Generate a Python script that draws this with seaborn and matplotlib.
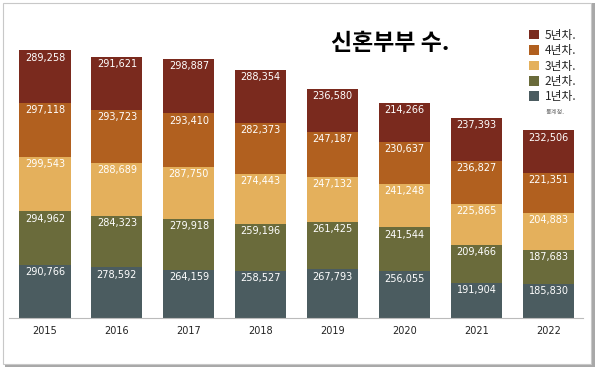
import numpy as np
import pandas as pd
import matplotlib
matplotlib.use('Agg')
import matplotlib.pyplot as plt
import seaborn as sns
from matplotlib.patches import Rectangle, Patch

## Data
years = ['2015', '2016', '2017', '2018', '2019', '2020', '2021', '2022']
yr1 = [290766, 278592, 264159, 258527, 267793, 256055, 191904, 185830]
yr2 = [294962, 284323, 279918, 259196, 261425, 241544, 209466, 187683]
yr3 = [299543, 288689, 287750, 274443, 247132, 241248, 225865, 204883]
yr4 = [297118, 293723, 293410, 282373, 247187, 230637, 236827, 221351]
yr5 = [289258, 291621, 298887, 288354, 236580, 214266, 237393, 232506]
series_names = ['1년차.', '2년차.', '3년차.', '4년차.', '5년차.']
colors = ['#4b5c60', '#6a6b3b', '#e4b05c', '#b1601f', '#7a2a1e']

sns.set_theme(style='white')
plt.rcParams['font.family'] = ['Noto Sans CJK KR', 'DejaVu Sans']

fig = plt.figure(figsize=(6, 3.75), dpi=100)
fig.patch.set_facecolor('white')

# card frame with shadow
fig.patches.append(Rectangle((5 / 600, 8 / 375), 590 / 600, 364 / 375, transform=fig.transFigure,
                             facecolor='#a8a8a8', edgecolor='none', zorder=-10))
fig.patches.append(Rectangle((3 / 600, 11 / 375), 588 / 600, 361 / 375, transform=fig.transFigure,
                             facecolor='white', edgecolor='#c8c8c8', linewidth=0.8, zorder=-9))

ax = fig.add_axes([9 / 600, 57 / 375, 574 / 600, 291 / 375])
ax.set_facecolor('none')

df = pd.DataFrame({'year': years, 's1': yr1, 's2': yr2, 's3': yr3, 's4': yr4, 's5': yr5})
cols = ['s1', 's2', 's3', 's4', 's5']
bottom = np.zeros(len(years))
for col, name, c in zip(cols, series_names, colors):
    sns.barplot(data=df, x='year', y=col, bottom=bottom, color=c, width=0.71,
                saturation=1, ax=ax, label=name, linewidth=0, edgecolor='none')
    vals = df[col].values
    for i, v in enumerate(vals):
        ax.text(i, bottom[i] + v - 40000, f'{v:,}', ha='center', va='center',
                color='white', fontsize=7, family=['DejaVu Sans'])
    bottom = bottom + vals

ax.set_xlim(-0.5, 7.48)
ax.set_ylim(0, 1.6e6)
ax.set_xlabel('')
ax.set_ylabel('')
ax.set_yticks([])
ax.tick_params(axis='x', length=0, pad=6, labelsize=7, labelcolor='#222222')
for lab in ax.get_xticklabels():
    lab.set_family('DejaVu Sans')
for s in ['top', 'right', 'left']:
    ax.spines[s].set_visible(False)
ax.spines['bottom'].set_color('#bbbbbb')
ax.spines['bottom'].set_linewidth(0.8)

# legend (reverse order)
handles = [Patch(facecolor=c, edgecolor='none') for c in colors][::-1]
leg = ax.legend(handles, series_names[::-1], loc='upper left', bbox_to_anchor=(515 / 574, 1.01),
                frameon=False, fontsize=8.5, handlelength=0.85, handleheight=0.85,
                handletextpad=0.5, labelspacing=0.2, borderaxespad=0)

fig.text(555 / 600, 1 - 112 / 375, '통계청.', fontsize=4.5, color='#777777', ha='center', va='center')
fig.text(390 / 600, 1 - 44 / 375, '신혼부부 수.', fontsize=16.5, fontweight='bold', color='black',
         ha='center', va='center')

fig.savefig('out.png', dpi=100)
